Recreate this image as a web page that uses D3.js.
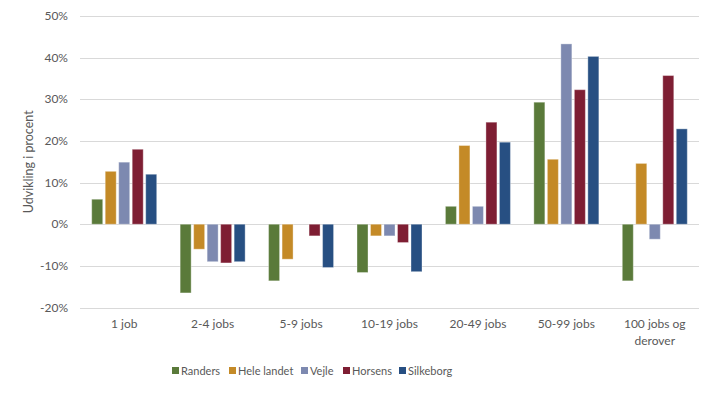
<!DOCTYPE html>
<meta charset="utf-8">
<style>
body { margin: 0; background: #fff; }
svg text { font-family: Lato, "Open Sans", sans-serif; fill: #595959; }
.grid line { stroke: #d9d9d9; shape-rendering: crispEdges; }
</style>
<svg width="716" height="393"></svg>
<script src="https://d3js.org/d3.v7.min.js"></script>
<script>

var categories = ["1 job", "2-4 jobs", "5-9 jobs", "10-19 jobs", "20-49 jobs", "50-99 jobs", "100 jobs og|derover"];
var seriesNames = ["Randers", "Hele landet", "Vejle", "Horsens", "Silkeborg"];
var colors = ["#5a7a3a", "#c48a27", "#7d89b0", "#7e1e33", "#274f82"];

var randers    = [6.0, -16.5, -13.6, -11.6, 4.3, 29.3, -13.6];
var heleLandet = [12.7, -6.0, -8.4, -2.8, 18.9, 15.6, 14.6];
var vejle      = [14.9, -9.0, 0, -2.8, 4.3, 43.3, -3.6];
var horsens    = [18.0, -9.3, -2.8, -4.4, 24.5, 32.3, 35.7];
var silkeborg  = [12.0, -9.0, -10.4, -11.4, 19.7, 40.3, 22.9];
var series = [randers, heleLandet, vejle, horsens, silkeborg];

var yTicks = [-20, -10, 0, 10, 20, 30, 40, 50];

var svg = d3.select("svg"),
  margin = {left: 80, right: 17, top: 16, bottom: 86};
var width = +svg.attr("width"), height = +svg.attr("height");

var x = d3.scaleBand().domain(d3.range(categories.length))
  .range([margin.left, width - margin.right])
  .paddingInner(0.265).paddingOuter(0.1325);
var xs = d3.scaleBand().domain(d3.range(seriesNames.length))
  .range([0, x.bandwidth()]).paddingInner(0.185);
var y = d3.scaleLinear().domain([-20, 50]).range([height - margin.bottom + 0.5, margin.top]);

// gridlines
svg.append("g").attr("class", "grid")
  .selectAll("line").data(yTicks).enter().append("line")
    .attr("x1", margin.left).attr("x2", width - margin.right)
    .attr("y1", function(d) { return Math.round(y(d)) + 0.5; })
    .attr("y2", function(d) { return Math.round(y(d)) + 0.5; });

// y tick labels
svg.append("g").selectAll("text").data(yTicks).enter().append("text")
  .attr("x", 68).attr("y", function(d) { return y(d); })
  .attr("dy", "0.35em").attr("text-anchor", "end")
  .style("font-size", "12px")
  .text(function(d) { return d + "%"; });

// axis title
svg.append("text")
  .attr("transform", "translate(33," + y(15) + ") rotate(-90)")
  .attr("text-anchor", "middle").style("font-size", "12.5px")
  .text("Udvikling i procent");

// bars
series.forEach(function(vals, s) {
  svg.append("g").selectAll("rect").data(vals).enter().append("rect")
    .attr("x", function(d, i) { return x(i) + xs(s); })
    .attr("width", xs.bandwidth())
    .attr("y", function(d) { return y(Math.max(0, d)); })
    .attr("height", function(d) { return Math.abs(y(d) - y(0)); })
    .attr("fill", colors[s])
    .attr("stroke", "rgba(255,255,255,0.35)")
    .attr("stroke-width", 1);
});

// category labels
var cat = svg.append("g").selectAll("text").data(categories).enter().append("text")
  .attr("x", function(d, i) { return x(i) + x.bandwidth() / 2; })
  .attr("y", 328)
  .attr("text-anchor", "middle").style("font-size", "12px");
cat.each(function(d) {
  var lines = d.split("|");
  var t = d3.select(this);
  lines.forEach(function(l, k) {
    t.append("tspan").attr("x", t.attr("x")).attr("dy", k ? 17 : 0).text(l);
  });
});

// legend
var legendX = [172, 229, 301, 343, 399];
var lg = svg.append("g").selectAll("g").data(seriesNames).enter().append("g")
  .attr("transform", function(d, i) { return "translate(" + legendX[i] + ",367)"; });
lg.append("rect").attr("width", 7).attr("height", 7)
  .attr("fill", function(d, i) { return colors[i]; });
lg.append("text").attr("x", 9).attr("y", 4).attr("dy", "0.35em")
  .style("font-size", "11px").text(function(d) { return d; });

</script>
